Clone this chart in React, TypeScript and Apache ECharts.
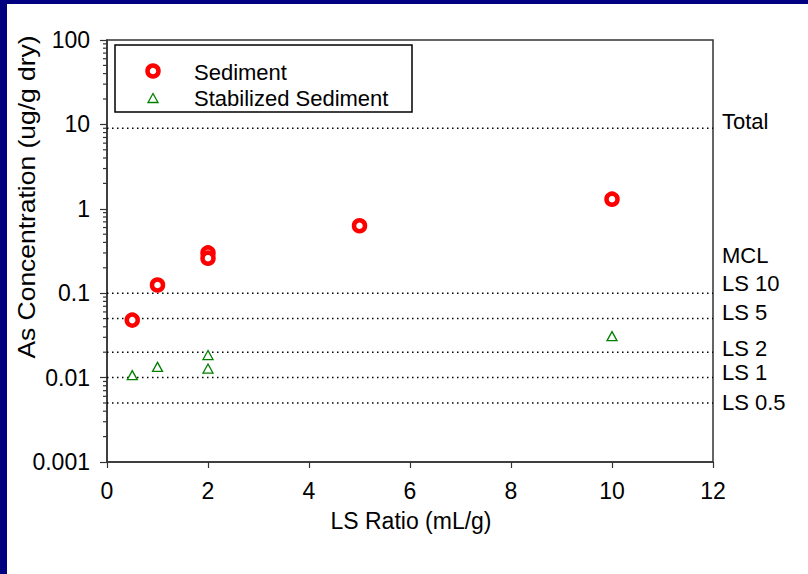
import React, { useEffect, useRef } from "react";
import * as echarts from "echarts";

// ---- data ----
const sedimentX = [0.5, 1, 2, 2, 5, 10];
const sedimentY = [0.048, 0.125, 0.3, 0.26, 0.63, 1.3];
const stabilizedX = [0.5, 1, 2, 2, 10];
const stabilizedY = [0.0107, 0.0134, 0.0185, 0.0128, 0.031];

const refLineNames = ["Total", "LS 10", "LS 5", "LS 2", "LS 1", "LS 0.5"];
const refLineValues = [9, 0.1, 0.05, 0.02, 0.01, 0.005];

// right-hand labels (text, pixel y centre)
const sideLabels = ["Total", "MCL", "LS 10", "LS 5", "LS 2", "LS 1", "LS 0.5"];
const sideLabelY = [121, 255, 283, 312, 348, 372, 402];

const yTickLabels = ["0.001", "0.01", "0.1", "1", "10", "100"];
const xTickLabels = ["0", "2", "4", "6", "8", "10", "12"];
const minorMantissas = [2, 3, 4, 5, 6, 7, 8, 9];
const minorDecades = [0.001, 0.01, 0.1, 1, 10];

const FONT = "Liberation Sans, Arial, sans-serif";

export default function App() {
  const ref = useRef<HTMLDivElement>(null);
  useEffect(() => {
    if (!ref.current) return;
    const chart = echarts.init(ref.current, null, { renderer: "svg" });
    const minorTicks: number[][] = [];
    minorDecades.forEach((d) =>
      minorMantissas.forEach((m) => minorTicks.push([0, +(m * d).toPrecision(3)]))
    );
    const gridLeft = 107, gridTop = 40, gridRight = 713, gridBottom = 462;
    const refSeries = refLineValues.map((v, i) => ({
      name: refLineNames[i],
      type: "line",
      data: [
        [0, v],
        [12, v],
      ],
      symbol: "none",
      silent: true,
      lineStyle: { type: [1.5, 3.5], color: "#000", width: 1.5 },
      z: 2,
    }));
    const option: any = {
      animation: false,
      backgroundColor: "#ffffff",
      grid: {
        left: gridLeft,
        top: gridTop,
        right: 808 - gridRight,
        bottom: 574 - gridBottom,
        show: true,
        borderColor: "#333333",
        borderWidth: 1.5,
        backgroundColor: "transparent",
      },
      xAxis: {
        type: "value",
        min: 0,
        max: 12,
        interval: 2,
        axisLine: { show: true, onZero: false, lineStyle: { color: "#333333", width: 1.5 } },
        axisTick: { show: true, inside: false, length: 6, lineStyle: { color: "#333333", width: 1.2 } },
        axisLabel: {
          margin: 17,
          fontSize: 23,
          fontFamily: FONT,
          color: "#000",
          formatter: (v: number) => xTickLabels[Math.round(v / 2)] ?? String(v),
        },
        splitLine: { show: false },
      },
      yAxis: {
        type: "log",
        logBase: 10,
        min: 0.001,
        max: 100,
        axisLine: { show: true, onZero: false, lineStyle: { color: "#333333", width: 1.5 } },
        axisTick: { show: true, inside: false, length: 7, lineStyle: { color: "#333333", width: 1.2 } },
        axisLabel: {
          margin: 17,
          fontSize: 23,
          fontFamily: FONT,
          color: "#000",
          formatter: (v: number) => {
            const i = Math.round(Math.log10(v)) + 3;
            return yTickLabels[i] ?? String(v);
          },
        },
        splitLine: { show: false },
      },
      graphic: [
        { type: "rect", shape: { x: 0, y: 0, width: 808, height: 4 }, style: { fill: "#000080" } },
        { type: "rect", shape: { x: 0, y: 0, width: 7, height: 574 }, style: { fill: "#000080" } },
        {
          type: "text",
          x: 27,
          y: 197,
          rotation: Math.PI / 2,
          scaleX: 1.15,
          style: {
            text: "As Concentration (ug/g dry)",
            fontSize: 23,
            fontFamily: FONT,
            fill: "#000",
            align: "center",
            verticalAlign: "middle",
          },
        },
        {
          type: "text",
          x: 411,
          y: 521,
          style: {
            text: "LS Ratio (mL/g)",
            fontSize: 23,
            fontFamily: FONT,
            fill: "#000",
            align: "center",
            verticalAlign: "middle",
          },
        },
        ...sideLabels.map((t, i) => ({
          type: "text",
          x: 722,
          y: sideLabelY[i],
          style: {
            text: t,
            fontSize: 22,
            fontFamily: FONT,
            fill: "#000",
            align: "left",
            verticalAlign: "middle",
          },
        })),
        // legend
        {
          type: "rect",
          shape: { x: 115, y: 45, width: 297, height: 67 },
          style: { fill: "#fff", stroke: "#000", lineWidth: 1.5 },
          z: 10,
        },
        {
          type: "circle",
          shape: { cx: 153, cy: 71, r: 5.5 },
          style: { fill: "#fff", stroke: "#ff0000", lineWidth: 4.5 },
          z: 11,
        },
        {
          type: "polygon",
          shape: { points: [[153, 93.5], [158, 102.5], [148, 102.5]] },
          style: { fill: "#fff", stroke: "#008000", lineWidth: 1.3 },
          z: 11,
        },
        {
          type: "text",
          x: 194,
          y: 72,
          z: 11,
          style: { text: "Sediment", fontSize: 22, fontFamily: FONT, fill: "#000", verticalAlign: "middle" },
        },
        {
          type: "text",
          x: 194,
          y: 98,
          z: 11,
          style: {
            text: "Stabilized Sediment",
            fontSize: 22,
            fontFamily: FONT,
            fill: "#000",
            verticalAlign: "middle",
          },
        },
      ],
      series: [
        ...refSeries,
        {
          name: "Minor ticks",
          type: "custom",
          silent: true,
          clip: false,
          data: minorTicks,
          renderItem: (params: any, api: any) => {
            const p = api.coord([0, api.value(1)]);
            return {
              type: "line",
              shape: { x1: p[0] - 4, y1: p[1], x2: p[0], y2: p[1] },
              style: { stroke: "#333333", lineWidth: 1.2 },
            };
          },
        },
        {
          name: "Stabilized Sediment",
          type: "scatter",
          symbol: "triangle",
          symbolSize: [10, 9],
          itemStyle: { color: "#ffffff", borderColor: "#008000", borderWidth: 1.3, opacity: 1 },
          data: stabilizedX.map((x, i) => [x, stabilizedY[i]]),
          z: 5,
        },
        {
          name: "Sediment",
          type: "scatter",
          symbol: "circle",
          symbolSize: 11,
          itemStyle: { color: "#ffffff", borderColor: "#ff0000", borderWidth: 4.5, opacity: 1 },
          data: sedimentX.map((x, i) => [x, sedimentY[i]]),
          z: 6,
        },
      ],
    };
    chart.setOption(option);
    return () => chart.dispose();
  }, []);
  return (
    <div
      ref={ref}
      style={{ position: "fixed", left: 0, top: 0, width: 808, height: 574, background: "#fff" }}
    />
  );
}
